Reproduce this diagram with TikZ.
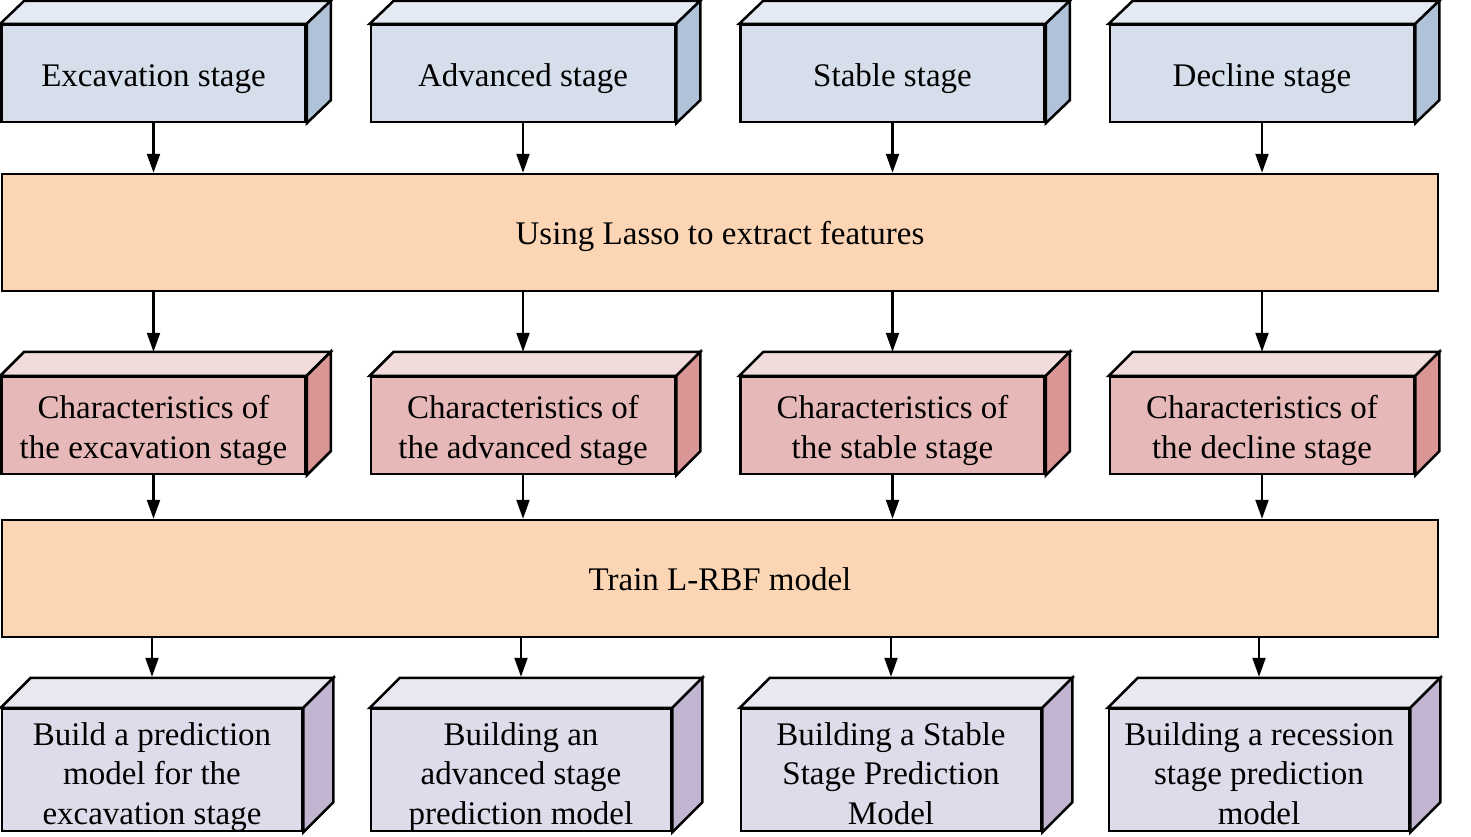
\documentclass[tikz,border=0pt]{standalone}
\usepackage{fontspec}
\setmainfont{Liberation Serif}
\usetikzlibrary{calc,arrows.meta}
\definecolor{bluefront}{RGB}{214,222,235}
\definecolor{bluetop}{RGB}{228,234,243}
\definecolor{blueside}{RGB}{176,194,216}
\definecolor{band}{RGB}{252,214,180}
\definecolor{redfront}{RGB}{230,185,184}
\definecolor{redtop}{RGB}{242,220,219}
\definecolor{redside}{RGB}{217,150,148}
\definecolor{purfront}{RGB}{222,220,234}
\definecolor{purtop}{RGB}{233,231,240}
\definecolor{purside}{RGB}{193,181,210}
\newcommand{\lowtext}[2]{\raisebox{-#1}[\height][\depth]{\begin{tabular}{@{}c@{}}#2\end{tabular}}}
\tikzset{
  boxbase/.style={draw=black, line width=2.5pt, inner sep=0pt,
    font=\fontsize{33}{39.5}\selectfont},
  stagebox/.style={boxbase, fill=bluefront, minimum width=304pt, minimum height=97pt},
  charbox/.style={boxbase, fill=redfront, minimum width=304pt, minimum height=97pt},
  buildbox/.style={boxbase, fill=purfront, minimum width=300pt, minimum height=122pt},
  bandbox/.style={boxbase, fill=band, minimum width=1436pt, minimum height=117pt},
  face/.style={draw=black, line width=2.5pt},
  flow/.style={line width=2.2pt, -{Triangle[length=19pt,width=13pt]}}
}
\begin{document}
\begin{tikzpicture}[x=1pt,y=-1pt]
\useasboundingbox (0,0) rectangle (1471,836);
% row 1
\node[stagebox] (s1) at (153.5,73.5) {\lowtext{5pt}{Excavation stage}};
\node[stagebox] (s2) at (523,73.5) {\lowtext{5pt}{Advanced stage}};
\node[stagebox] (s3) at (892.5,73.5) {\lowtext{5pt}{Stable stage}};
\node[stagebox] (s4) at (1262,73.5) {\lowtext{5pt}{Decline stage}};
\foreach \i in {1,...,4}{
  \filldraw[face, fill=bluetop] (s\i.north west) -- ++(24,-23) -- ($(s\i.north east)+(24,-23)$) -- (s\i.north east) -- cycle;
  \filldraw[face, fill=blueside] (s\i.north east) -- ++(24,-23) -- ($(s\i.south east)+(24,-23)$) -- (s\i.south east) -- cycle;
}
% band 1
\node[bandbox] (b1) at (720,232.5) {\lowtext{4pt}{Using Lasso to extract features}};
% row 2
\node[charbox] (c1) at (153.5,425.5) {\lowtext{5pt}{Characteristics of\\the excavation stage}};
\node[charbox] (c2) at (523,425.5) {\lowtext{5pt}{Characteristics of\\the advanced stage}};
\node[charbox] (c3) at (892.5,425.5) {\lowtext{5pt}{Characteristics of\\the stable stage}};
\node[charbox] (c4) at (1262,425.5) {\lowtext{5pt}{Characteristics of\\the decline stage}};
\foreach \i in {1,...,4}{
  \filldraw[face, fill=redtop] (c\i.north west) -- ++(24,-24) -- ($(c\i.north east)+(24,-24)$) -- (c\i.north east) -- cycle;
  \filldraw[face, fill=redside] (c\i.north east) -- ++(24,-24) -- ($(c\i.south east)+(24,-24)$) -- (c\i.south east) -- cycle;
  \coordinate (ct\i) at ($(c\i.north)+(0,-24)$);
}
% band 2
\node[bandbox] (b2) at (720,578.5) {\lowtext{4pt}{Train L-RBF model}};
% row 3
\node[buildbox] (m1) at (152,770) {\lowtext{7pt}{Build a prediction\\model for the\\excavation stage}};
\node[buildbox] (m2) at (521,770) {\lowtext{7pt}{Building an\\advanced stage\\prediction model}};
\node[buildbox] (m3) at (891,770) {\lowtext{7pt}{Building a Stable\\Stage Prediction\\Model}};
\node[buildbox] (m4) at (1259,770) {\lowtext{7pt}{Building a recession\\stage prediction\\model}};
\foreach \i in {1,...,4}{
  \filldraw[face, fill=purtop] (m\i.north west) -- ++(30,-30) -- ($(m\i.north east)+(30,-30)$) -- (m\i.north east) -- cycle;
  \filldraw[face, fill=purside] (m\i.north east) -- ++(30,-30) -- ($(m\i.south east)+(30,-30)$) -- (m\i.south east) -- cycle;
  \coordinate (mt\i) at ($(m\i.north)+(0,-31)$);
}
% connectors
\foreach \i in {1,...,4}{
  \draw[flow] (s\i.south) -- (s\i.south |- b1.north);
  \draw[flow] (b1.south -| ct\i) -- (ct\i);
  \draw[flow] (c\i.south) -- (c\i.south |- b2.north);
  \draw[flow] (b2.south -| mt\i) -- (mt\i);
}
\end{tikzpicture}
\end{document}
